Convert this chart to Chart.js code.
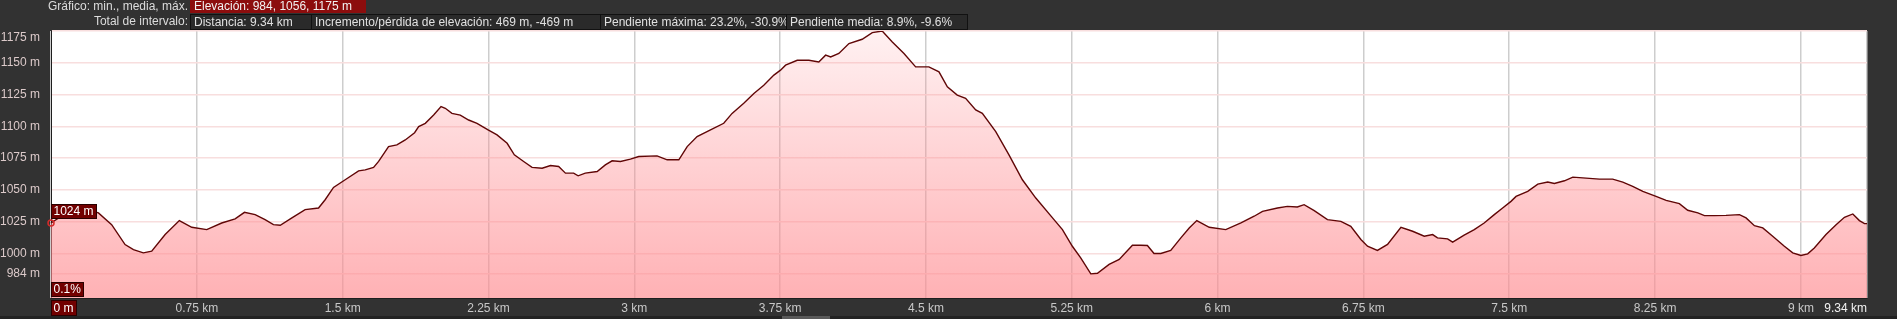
<!DOCTYPE html>
<html lang="es">
<head>
<meta charset="UTF-8">
<title>Perfil de elevación</title>
<style>
  * { margin: 0; padding: 0; box-sizing: border-box; }
  body {
    background: #323232;
    width: 1897px;
    height: 319px;
    overflow: hidden;
    position: relative;
    font: 12px "Liberation Sans", Arial, sans-serif;
    color: #e4e4e4;
  }
  #profile { position: absolute; left: 0; top: 0; }
  .hdr { position: absolute; white-space: nowrap; }
  .row1 { top: 0; height: 13px; line-height: 13px; }
  .row2 { top: 14px; height: 16px; line-height: 14px; }
  .lbl { left: 0; width: 188px; text-align: right; color: #dcdcdc; }
  .sel { background: #8c0d0d; color: #f2f2f2; padding-left: 4px; }
  .box { background: #2a2a2a; border: 1px solid #111; padding-left: 3px; color: #e0e0e0; }
  .scroll { position: absolute; left: 0; top: 316px; width: 1897px; height: 3px; background: #232323; }
  .thumb { position: absolute; left: 782px; top: 316px; width: 48px; height: 3px; background: #5a5a5a; }
</style>
</head>
<body>
<canvas id="profile" width="1897" height="319"></canvas>

<div class="hdr row1 lbl">Gráfico: min., media, máx.</div>
<div class="hdr row1 sel" style="left:190px;width:176px">Elevación: 984, 1056, 1175 m</div>

<div class="hdr row2 lbl">Total de intervalo:</div>
<div class="hdr row2 box" style="left:190px;width:122px">Distancia: 9.34 km</div>
<div class="hdr row2 box" style="left:311px;width:290px">Incremento/pérdida de elevación: 469 m, -469 m</div>
<div class="hdr row2 box" style="left:600px;width:187px">Pendiente máxima: 23.2%, -30.9%</div>
<div class="hdr row2 box" style="left:786px;width:182px">Pendiente media: 8.9%, -9.6%</div>

<div class="scroll"></div>
<div class="thumb"></div>

<script src="https://cdn.jsdelivr.net/npm/chart.js@4/dist/chart.umd.min.js"></script>
<script>
  // Elevation profile (km, m)
  const distKm = [
    0, 0.04, 0.1, 0.17, 0.22, 0.244, 0.312, 0.381, 0.424, 0.475,
    0.518, 0.587, 0.66, 0.724, 0.801, 0.878, 0.947, 0.995, 1.05, 1.101,
    1.144, 1.179, 1.239, 1.307, 1.376, 1.41, 1.453, 1.513, 1.582, 1.616,
    1.659, 1.685, 1.736, 1.779, 1.822, 1.87, 1.891, 1.925, 1.968, 2.006,
    2.028, 2.062, 2.105, 2.148, 2.191, 2.248, 2.294, 2.346, 2.383, 2.431,
    2.474, 2.526, 2.569, 2.611, 2.646, 2.688, 2.711, 2.748, 2.809, 2.851,
    2.886, 2.929, 2.98, 3.023, 3.117, 3.169, 3.229, 3.272, 3.323, 3.392,
    3.46, 3.503, 3.563, 3.615, 3.666, 3.718, 3.752, 3.778, 3.838, 3.898,
    3.949, 3.984, 4.01, 4.052, 4.104, 4.172, 4.224, 4.275, 4.327, 4.387,
    4.447, 4.515, 4.567, 4.61, 4.661, 4.704, 4.756, 4.79, 4.859, 4.927,
    4.996, 5.065, 5.151, 5.202, 5.253, 5.296, 5.348, 5.382, 5.442, 5.494,
    5.562, 5.605, 5.639, 5.673, 5.708, 5.759, 5.811, 5.854, 5.893, 5.957,
    6.042, 6.12, 6.188, 6.231, 6.308, 6.359, 6.41, 6.445, 6.497, 6.565,
    6.634, 6.685, 6.737, 6.771, 6.822, 6.874, 6.943, 7.003, 7.063, 7.106,
    7.131, 7.183, 7.209, 7.268, 7.32, 7.371, 7.423, 7.466, 7.509, 7.535,
    7.595, 7.647, 7.698, 7.732, 7.784, 7.827, 7.895, 7.964, 8.032, 8.084,
    8.135, 8.187, 8.255, 8.307, 8.375, 8.418, 8.47, 8.504, 8.555, 8.615,
    8.684, 8.718, 8.761, 8.804, 8.855, 8.915, 8.958, 9.0, 9.035, 9.069,
    9.129, 9.181, 9.224, 9.267, 9.301, 9.327, 9.34
  ]
  const elevM = [
    1024, 1028, 1031, 1033, 1033, 1031.9, 1022.7, 1007, 1003, 1000.5,
    1001.8, 1014.9, 1025.9, 1020.6, 1018.8, 1024, 1027.2, 1032.4, 1030.6, 1026.6,
    1022.7, 1022.2, 1028, 1034.5, 1035.8, 1042.3, 1052, 1058, 1065, 1065.8,
    1067.7, 1072.4, 1084.1, 1085.4, 1089.3, 1095, 1099.8, 1102.4, 1108.9, 1115.5,
    1114.2, 1110.2, 1108.9, 1105, 1102.4, 1097.2, 1093.3, 1086.7, 1077.6, 1072.4,
    1067.7, 1067.1, 1069.2, 1068.4, 1063.2, 1063.2, 1061.1, 1063.2, 1064.5, 1069.7,
    1072.9, 1072.4, 1074.2, 1076.3, 1076.8, 1073.7, 1073.7, 1084.1, 1092, 1097.2,
    1102.4, 1110.2, 1118.1, 1125.9, 1132.4, 1140.3, 1144.2, 1148.1, 1152, 1152,
    1150.7, 1156, 1154.6, 1157.3, 1165.1, 1168.5, 1173.7, 1175, 1166.4, 1157.3,
    1146.8, 1146.8, 1142.9, 1131.1, 1124.6, 1122, 1112.9, 1110.2, 1095.9, 1077.6,
    1058, 1043.6, 1028, 1018.8, 1005.7, 996.6, 984, 984.5, 991.4, 995.3,
    1006.5, 1006.5, 1006.3, 1000, 1000, 1002.4, 1012.3, 1020.1, 1025.9, 1020.6,
    1018.8, 1024, 1029.3, 1033.2, 1035.8, 1037.1, 1036.6, 1038.4, 1033.7, 1026.6,
    1025.3, 1021.4, 1011, 1005.7, 1002.4, 1007.1, 1020.6, 1017.5, 1013.6, 1014.9,
    1012.3, 1011.5, 1008.9, 1014.4, 1018.8, 1024, 1030.6, 1035.8, 1041, 1044.9,
    1048.9, 1054.6, 1056.2, 1055.1, 1057.2, 1060.1, 1059.3, 1058.5, 1058.5, 1056.2,
    1052.8, 1048.9, 1044.9, 1041.8, 1039.2, 1034, 1031.9, 1029.8, 1029.8, 1030,
    1030.6, 1028, 1021.9, 1020.1, 1013.6, 1005.7, 1000.5, 998.4, 999.7, 1004.4,
    1014.9, 1022.7, 1028.5, 1031.1, 1025.9, 1023.5, 1023.5
  ]

  const yTicks = [984, 1000, 1025, 1050, 1075, 1100, 1125, 1150, 1175]
  const xTicks = [0, 0.75, 1.5, 2.25, 3, 3.75, 4.5, 5.25, 6, 6.75, 7.5, 8.25, 9, 9.34]
  const xTickLabels = [
    '0 m', '0.75 km', '1.5 km', '2.25 km', '3 km', '3.75 km', '4.5 km',
    '5.25 km', '6 km', '6.75 km', '7.5 km', '8.25 km', '9 km', '9.34 km'
  ]
  const startElevLabel = '1024 m'
  const startSlopeLabel = '0.1%'

  const FONT = '"Liberation Sans", Arial, sans-serif'
  const Y_LABEL_COLOR = '#dccaca'

  function tagBox(ctx, text, x, y, h) {
    ctx.font = '12px ' + FONT
    const w = Math.ceil(ctx.measureText(text).width) + 5
    ctx.fillStyle = '#720000'
    ctx.fillRect(x, y, w, h)
    ctx.strokeStyle = '#2a0000'
    ctx.lineWidth = 1
    ctx.strokeRect(x + 0.5, y + 0.5, w - 1, h - 1)
    ctx.fillStyle = '#ffffff'
    ctx.textAlign = 'left'
    ctx.textBaseline = 'middle'
    ctx.fillText(text, x + 2.5, y + h / 2 + 0.5)
  }

  // dark page + white plot area, then the little tags on top
  const profileDecor = {
    id: 'profileDecor',
    beforeDraw(chart) {
      const { ctx, chartArea: a } = chart
      ctx.save()
      ctx.fillStyle = '#323232'
      ctx.fillRect(0, 0, chart.width, chart.height)
      ctx.fillStyle = '#ffffff'
      ctx.fillRect(a.left, a.top, a.right - a.left, a.bottom - a.top)
      ctx.restore()
    },
    afterDatasetsDraw(chart) {
      const { ctx, chartArea: a, scales } = chart
      ctx.save()
      const py = scales.y.getPixelForValue(elevM[0])
      tagBox(ctx, startElevLabel, a.left, Math.round(py) - 19, 15)
      tagBox(ctx, startSlopeLabel, a.left, a.bottom - 16, 15)
      tagBox(ctx, xTickLabels[0], a.left, a.bottom + 2, 16)

      ctx.font = '12px ' + FONT
      ctx.textBaseline = 'middle'
      ctx.textAlign = 'right'

      // last x label sits flush with the right edge
      ctx.fillStyle = '#f2f2f2'
      const last = xTicks.length - 1
      ctx.fillText(xTickLabels[last], scales.x.getPixelForValue(xTicks[last]), a.bottom + 10.5)

      // top y label is pushed down inside the plot height
      ctx.fillStyle = Y_LABEL_COLOR
      const top = yTicks[yTicks.length - 1]
      ctx.fillText(top + ' m', a.left - 11, scales.y.getPixelForValue(top) + 7)
      ctx.restore()
    }
  }

  const chart = new Chart(document.getElementById('profile'), {
    type: 'line',
    data: {
      datasets: [{
        data: distKm.map((d, i) => ({ x: d, y: elevM[i] })),
        borderColor: '#600606',
        borderWidth: 1.4,
        tension: 0,
        fill: 'start',
        backgroundColor: (c) => {
          const a = c.chart.chartArea
          if (!a) return 'rgba(255,140,145,0.5)'
          const g = c.chart.ctx.createLinearGradient(0, a.top, 0, a.bottom)
          g.addColorStop(0, 'rgba(255,140,145,0.12)')
          g.addColorStop(1, 'rgba(255,140,145,0.68)')
          return g
        },
        pointRadius: (c) => (c.dataIndex === 0 ? 3 : 0),
        pointBorderColor: '#d62a2a',
        pointBackgroundColor: 'rgba(0,0,0,0)',
        pointBorderWidth: 1.5,
        clip: { left: 6, top: 0, right: 0, bottom: 0 }
      }]
    },
    options: {
      responsive: false,
      animation: false,
      events: [],
      layout: { padding: { top: 31, right: 30, left: 0, bottom: 0 } },
      plugins: {
        legend: { display: false },
        tooltip: { enabled: false }
      },
      scales: {
        x: {
          type: 'linear',
          min: 0,
          max: 9.34,
          afterFit(s) { s.height = 21 },
          afterBuildTicks(s) { s.ticks = xTicks.map((v) => ({ value: v })) },
          ticks: {
            autoSkip: false,
            maxRotation: 0,
            padding: 3,
            color: '#c8c8c8',
            font: { family: FONT, size: 12 },
            // both ends are drawn by the plugin
            callback: (v, i) => (i === 0 || i === xTicks.length - 1 ? '' : xTickLabels[i])
          },
          grid: { color: '#cdcdcd', lineWidth: 1.5, drawTicks: false },
          border: { color: '#1e1e1e' }
        },
        y: {
          min: 965,
          max: 1175,
          afterFit(s) { s.width = 51 },
          afterBuildTicks(s) { s.ticks = yTicks.map((v) => ({ value: v })) },
          ticks: {
            padding: 11,
            color: Y_LABEL_COLOR,
            font: { family: FONT, size: 12 },
            callback: (v, i) => (i === yTicks.length - 1 ? '' : v + ' m')
          },
          grid: { color: '#f8dede', lineWidth: 1.5, drawTicks: false },
          border: { color: '#1e1e1e' }
        }
      }
    },
    plugins: [profileDecor]
  })
</script>
</body>
</html>
